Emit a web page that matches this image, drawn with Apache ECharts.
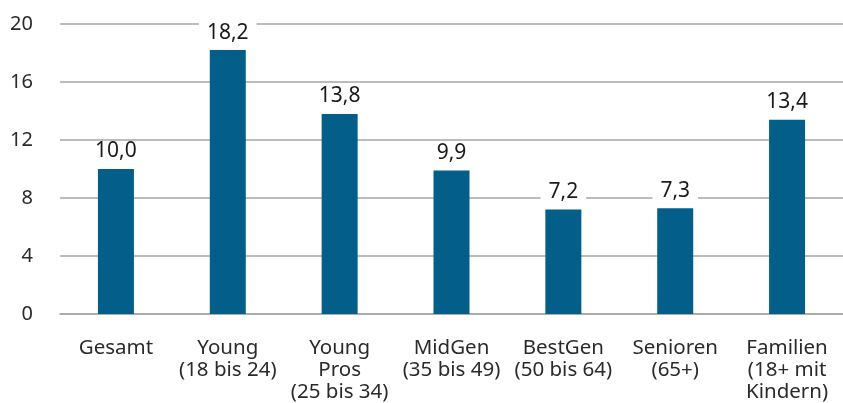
<!DOCTYPE html>
<html><head><meta charset="utf-8">
<script src="https://cdn.jsdelivr.net/npm/echarts@6/dist/echarts.min.js"></script>
<style>html,body{margin:0;padding:0;background:#fff}#c{width:843px;height:403px}</style>
</head><body><div id="c"></div>
<script>
const categories = ['Gesamt', 'Young\n(18 bis 24)', 'Young\nPros\n(25 bis 34)', 'MidGen\n(35 bis 49)', 'BestGen\n(50 bis 64)', 'Senioren\n(65+)', 'Familien\n(18+ mit\nKindern)'];
const values = [10.0, 18.2, 13.8, 9.9, 7.2, 7.3, 13.4];
const yTicks = [0, 4, 8, 12, 16, 20];

const chart = echarts.init(document.getElementById('c'));
const font = '"Noto Sans", sans-serif';
chart.setOption({
  animation: false,
  grid: { left: 60, right: 0, top: 24, bottom: 89, containLabel: false },
  xAxis: {
    type: 'category', data: categories,
    axisLine: { show: true, lineStyle: { color: '#a6a6a6', width: 1.5 } },
    axisTick: { show: false },
    axisLabel: { interval: 0, color: '#2a2a2a', fontFamily: font, fontWeight: 400, fontSize: 20.5, lineHeight: 22, margin: 23 }
  },
  yAxis: {
    type: 'value', min: yTicks[0], max: yTicks[yTicks.length - 1], interval: 4,
    axisLine: { show: false }, axisTick: { show: false },
    splitLine: { lineStyle: { color: '#a6a6a6', width: 1.5 } },
    axisLabel: { color: '#2a2a2a', fontFamily: font, fontWeight: 400, fontSize: 20, margin: 27 }
  },
  series: [{
    type: 'bar', data: values, barWidth: 36,
    itemStyle: { color: '#035e8a' },
    label: {
      show: true, position: 'top', distance: 7, color: '#1a1a1a', fontFamily: font, fontWeight: 400, fontSize: 21,
      backgroundColor: '#fff', padding: [0, 8],
      formatter: p => p.value.toFixed(1).replace('.', ',')
    }
  }]
});
</script></body></html>
